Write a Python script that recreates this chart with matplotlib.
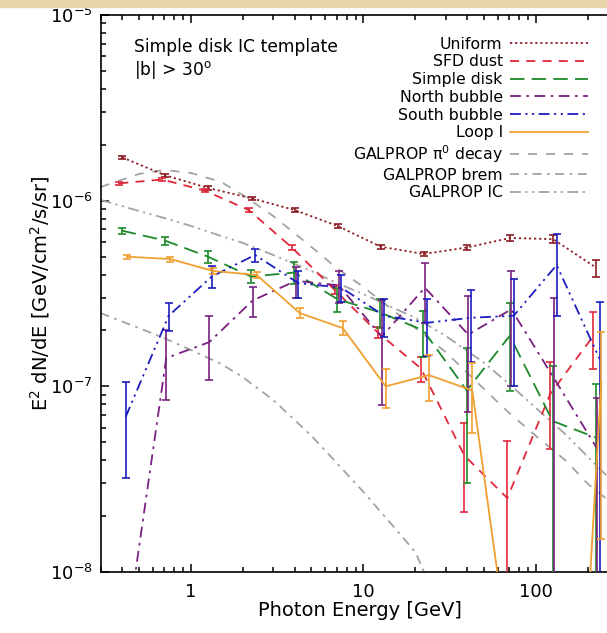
import numpy as np
import matplotlib.pyplot as plt
from matplotlib.patches import Rectangle
from matplotlib.lines import Line2D
from matplotlib.ticker import LogLocator, NullFormatter

plt.rcParams['font.family'] = ['DejaVu Sans']
plt.rcParams['mathtext.fontset'] = 'dejavusans'

# energy bin centres [GeV]
energy = np.array([0.40, 0.71, 1.26, 2.25, 4.0, 7.1, 12.6, 22.4, 40.0, 71.0, 126.0, 224.0])

# template spectra, E^2 dN/dE [GeV/cm^2/s/sr], and 1-sigma errors
uniform = [1.71e-6, 1.37e-6, 1.17e-6, 1.03e-6, 8.9e-7, 7.3e-7, 5.65e-7, 5.16e-7, 5.6e-7, 6.3e-7, 6.2e-7, 4.35e-7]
uniform_err = [4e-8, 3e-8, 2.5e-8, 2e-8, 1.8e-8, 1.5e-8, 1.3e-8, 1.2e-8, 1.5e-8, 2e-8, 3e-8, 4.5e-8]

sfd = [1.24e-6, 1.30e-6, 1.13e-6, 8.9e-7, 5.6e-7, 3.3e-7, 1.95e-7, 1.25e-7, 4.24e-8, 2.5e-8, 9.1e-8, 1.87e-7]
sfd_err = [2.5e-8, 2.5e-8, 2e-8, 1.8e-8, 1.5e-8, 1.5e-8, 1.4e-8, 1.9e-8, 2.13e-8, 2.55e-8, 4.5e-8, 6.3e-8]

disk = [6.9e-7, 6.1e-7, 5.0e-7, 3.9e-7, 4.1e-7, 2.95e-7, 2.5e-7, 2.0e-7, 9.5e-8, 1.87e-7, 6.5e-8, 5.3e-8]
disk_err = [2.6e-8, 3e-8, 3.7e-8, 3.2e-8, 5.6e-8, 4.5e-8, 4.5e-8, 5.6e-8, 6.5e-8, 9.3e-8, 6.4e-8, 5e-8]

north = [3.5e-9, 1.42e-7, 1.73e-7, 2.9e-7, 3.7e-7, 3.5e-7, 1.85e-7, 3.4e-7, 1.9e-7, 2.6e-7, 1.1e-7, 4.6e-8]
north_err = [3e-9, 5.8e-8, 6.5e-8, 5.4e-8, 7e-8, 7e-8, 1.06e-7, 1.2e-7, 1.17e-7, 1.6e-7, 1.9e-7, 4.1e-8]

south = [6.85e-8, 2.4e-7, 3.9e-7, 5.1e-7, 3.6e-7, 3.4e-7, 2.4e-7, 2.2e-7, 2.34e-7, 2.4e-7, 4.5e-7, 1.4e-7]
south_err = [3.65e-8, 4.2e-8, 5.3e-8, 4.2e-8, 6e-8, 5.6e-8, 5.5e-8, 7.5e-8, 9.8e-8, 1.4e-7, 2.1e-7, 1.45e-7]

loop1 = [4.99e-7, 4.85e-7, 4.18e-7, 3.98e-7, 2.48e-7, 2.06e-7, 1.0e-7, 1.15e-7, 9.5e-8, 2e-9, 1e-11, 1.06e-7]
loop1_err = [1.3e-8, 1.5e-8, 1.4e-8, 1.4e-8, 1.5e-8, 1.8e-8, 2.4e-8, 3.2e-8, 3.9e-8, 2e-9, 1e-11, 9.1e-8]

# GALPROP model curves
galprop_energy = np.array([0.3, 0.5, 0.7, 1, 1.5, 2, 3, 5, 7, 10, 15, 20, 30, 50, 70, 100, 150, 200, 300])
pi0 = [1.185e-6, 1.393e-6, 1.463e-6, 1.41e-6, 1.26e-6, 1.073e-6, 8.27e-7, 5.63e-7, 4.34e-7, 3.43e-7,
       2.55e-7, 2.06e-7, 1.53e-7, 9.68e-8, 7.19e-8, 5.41e-8, 3.96e-8, 2.98e-8, 2.21e-8]
brem = [2.48e-7, 2.06e-7, 1.82e-7, 1.57e-7, 1.32e-7, 1.12e-7, 8.45e-8, 5.41e-8, 3.87e-8, 2.70e-8,
        1.75e-8, 1.28e-8, 5.46e-9, 2.6e-9]
ic = [1.009e-6, 8.80e-7, 8.07e-7, 7.31e-7, 6.45e-7, 5.92e-7, 5.10e-7, 4.18e-7, 3.60e-7, 3.14e-7,
      2.64e-7, 2.34e-7, 1.87e-7, 1.34e-7, 1.03e-7, 7.65e-8, 5.47e-8, 4.17e-8, 2.87e-8]

# name, values, errors, colour, dash pattern, small shift in log10(E) so bars don't sit on top of each other
series = [
    ('Uniform', uniform, uniform_err, '#8c1c22', (0, (1.2, 1.6)), 0.0),
    ('SFD dust', sfd, sfd_err, '#e0283a', (0, (5, 4)), -0.017),
    ('Simple disk', disk, disk_err, '#1d8a2a', (0, (8, 4)), -0.003),
    ('North bubble', north, north_err, '#7a2080', (0, (6, 3, 1.5, 3)), 0.006),
    ('South bubble', south, south_err, '#1c1cc0', (0, (6, 2.5, 1.2, 2.5, 1.2, 2.5)), 0.02),
    ('Loop I', loop1, loop1_err, '#f0a030', '-', 0.029),
]
models = [
    ('GALPROP π$^0$ decay', pi0, (0, (5, 5))),
    ('GALPROP brem', brem, (0, (5, 3, 1.5, 3))),
    ('GALPROP IC', ic, (0, (6, 2.5, 1.2, 2.5, 1.2, 2.5))),
]
gray = '#a3a3a3'

fig = plt.figure(figsize=(6.07, 6.33), dpi=100)
fig.patches.append(Rectangle((0, 1 - 7 / 633), 1, 7 / 633, transform=fig.transFigure,
                             color='#e6d5aa', zorder=0))
ax = fig.add_axes([100.7 / 607, 61 / 633, 517.5 / 607, 557 / 633])

handles = []
for label, vals, errs, col, ls, shift in series:
    x = energy * 10 ** shift
    ax.errorbar(x, vals, yerr=errs, fmt='none', ecolor=col, elinewidth=1.2,
                capsize=3, capthick=1.2, zorder=3)
    ax.plot(x, vals, color=col, ls=ls, lw=1.3, zorder=3)
    handles.append(Line2D([], [], color=col, ls=ls, lw=1.3, label=label))

for label, vals, ls in models:
    ax.plot(galprop_energy[:len(vals)], vals, color=gray, ls=ls, lw=1.3, zorder=2)
    handles.append(Line2D([], [], color=gray, ls=ls, lw=1.3, label=label))

ax.set_xscale('log')
ax.set_yscale('log')
ax.set_xlim(0.3, 300)
ax.set_ylim(1e-8, 1e-5)
ax.set_xticks([1, 10, 100])
ax.set_xticklabels(['1', '10', '100'])
ax.xaxis.set_minor_locator(LogLocator(base=10, subs=np.arange(2, 10)))
ax.xaxis.set_minor_formatter(NullFormatter())
ax.yaxis.set_minor_locator(LogLocator(base=10, subs=np.arange(2, 10)))
ax.yaxis.set_minor_formatter(NullFormatter())
ax.tick_params(which='both', direction='in', top=True, right=True, labelsize=13, width=1.1)
ax.tick_params(which='major', length=6)
ax.tick_params(axis='x', which='major', pad=8)
ax.tick_params(axis='y', which='major', pad=6)
ax.tick_params(which='minor', length=3.5)
for sp in ax.spines.values():
    sp.set_linewidth(1.2)

ax.set_xlabel('Photon Energy [GeV]', fontsize=14, labelpad=0)
ax.set_ylabel('E$^2$ dN/dE [GeV/cm$^2$/s/sr]', fontsize=14, labelpad=-2)

ax.text(0.064, 0.943, 'Simple disk IC template', transform=ax.transAxes,
        fontsize=12.3, va='center', ha='left')
ax.text(0.064, 0.901, '|b| > 30$^\\mathrm{o}$', transform=ax.transAxes,
        fontsize=12.3, va='center', ha='left')

ax.legend(handles=handles, loc='upper right', bbox_to_anchor=(0.942, 0.961),
          frameon=False, markerfirst=False, fontsize=11.3, handlelength=5.0,
          handletextpad=0.45, labelspacing=0.175, borderpad=0, borderaxespad=0)

fig.savefig('out.png', dpi=100)
